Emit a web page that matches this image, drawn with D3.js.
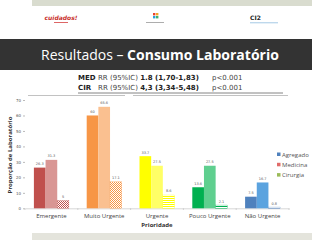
<!DOCTYPE html>
<html>
  <head>
    <meta charset="utf-8" />
    <title>Resultados - Consumo Laboratório</title>
    <script src="https://d3js.org/d3.v7.min.js"></script>
    <style>
      body { margin: 0; background: #fff; }
      svg { display: block; }
    </style>
  </head>
  <body>
    <script>
      const categories = ['Emergente', 'Muito Urgente', 'Urgente', 'Pouco Urgente', 'Não Urgente'];
      const agregado = [26.3, 60, 33.7, 13.6, 7.5];
      const medicina = [31.3, 65.6, 27.5, 27.5, 16.7];
      const cirurgia = [5, 17.1, 8.6, 2.1, 0.8];
      const series = ['Agregado', 'Medicina', 'Cirurgia'];
      const yTicks = [0, 10, 20, 30, 40, 50, 60, 70];
      // colour per category: [agregado, medicina, cirurgia]
      const catColors = [
        ['#c0504d', '#d99694', '#c0504d'],
        ['#f79646', '#fac090', '#f79646'],
        ['#ffff00', '#ffff66', '#ffff00'],
        ['#00b050', '#5fcf8f', '#00b050'],
        ['#4f81bd', '#5ba3df', '#4f81bd'],
      ];
      const legendColors = ['#4f81bd', '#e06b69', '#9bbb59'];

      const W = 320, H = 240;
      const svg = d3.select('body').append('svg').attr('width', W).attr('height', H);

      // slide decoration
      svg.append('rect').attr('x', 32).attr('y', 0).attr('width', 280).attr('height', 6).attr('fill', '#d9dccf');
      svg.append('rect').attr('x', 32).attr('y', 233).attr('width', 280).attr('height', 7).attr('fill', '#e4e4dc');

      // logos (rough)
      svg.append('text').attr('x', 61).attr('y', 20).attr('text-anchor', 'middle')
        .style('font', 'italic bold 6px "DejaVu Sans"').attr('fill', '#c9302c').text('cuidados!');
      svg.append('rect').attr('x', 54).attr('y', 22).attr('width', 14).attr('height', 1).attr('fill', '#d66');
      const ic = svg.append('g').attr('transform', 'translate(155,16)');
      [['#e8412c', -2, -3], ['#f5a623', 1, -3], ['#2b9fd8', -2, 0], ['#3cb371', 1, 0]].forEach(c => {
        ic.append('rect').attr('x', c[1]).attr('y', c[2]).attr('width', 2.4).attr('height', 2.4).attr('fill', c[0]);
      });
      svg.append('rect').attr('x', 146).attr('y', 22).attr('width', 18).attr('height', 0.8).attr('fill', '#999');
      svg.append('text').attr('x', 250).attr('y', 20)
        .style('font', 'bold 6px "DejaVu Sans"').attr('fill', '#222').text('CI2');
      svg.append('rect').attr('x', 250).attr('y', 22.5).attr('width', 28).attr('height', 0.7).attr('fill', '#7fb2d9');

      // title band
      svg.append('rect').attr('x', 0).attr('y', 39).attr('width', 312).attr('height', 31).attr('fill', '#333333');
      const title = svg.append('text').attr('x', 160).attr('y', 60).attr('text-anchor', 'middle')
        .style('font-family', '"Open Sans", sans-serif').style('font-size', '14px').attr('fill', '#fff');
      title.append('tspan').text('Resultados – ');
      title.append('tspan').style('font-weight', 'bold').text('Consumo Laboratório');

      // stats lines
      const stats = [
        ['MED', 'RR (95%IC) ', '1.8 (1,70-1,83)'],
        ['CIR', '  RR (95%IC) ', '4,3 (3,34-5,48)'],
      ];
      stats.forEach((s, i) => {
        const t = svg.append('text').attr('x', 78).attr('y', 80 + i * 9.5)
          .style('font-family', '"DejaVu Sans", sans-serif').style('font-size', '7px').attr('fill', '#222')
          .attr('xml:space', 'preserve');
        t.append('tspan').style('font-weight', 'bold').text(s[0] + ' ');
        t.append('tspan').attr('fill', '#444').text(s[1]);
        t.append('tspan').style('font-weight', 'bold').text(s[2]);
        svg.append('text').attr('x', 212).attr('y', 80 + i * 9.5)
          .style('font-family', '"DejaVu Sans", sans-serif').style('font-size', '7px').attr('fill', '#444')
          .text('p<0.001');
      });
      svg.append('line').attr('x1', 78).attr('x2', 283).attr('y1', 93).attr('y2', 93).attr('stroke', '#666').attr('stroke-width', 0.8);
      svg.append('line').attr('x1', 28).attr('x2', 125).attr('y1', 95.5).attr('y2', 95.5).attr('stroke', '#999').attr('stroke-width', 0.6);
      svg.append('line').attr('x1', 133).attr('x2', 288).attr('y1', 95.5).attr('y2', 95.5).attr('stroke', '#999').attr('stroke-width', 0.6);

      // patterns for hatched bars
      const defs = svg.append('defs');
      catColors.forEach((c, i) => {
        const p = defs.append('pattern').attr('id', 'pat' + i).attr('patternUnits', 'userSpaceOnUse')
          .attr('width', 2).attr('height', 2);
        p.append('rect').attr('width', 2).attr('height', 2).attr('fill', '#fff');
        if (i < 2) {
          p.append('rect').attr('width', 1).attr('height', 1).attr('fill', c[2]);
          p.append('rect').attr('x', 1).attr('y', 1).attr('width', 1).attr('height', 1).attr('fill', c[2]);
        } else {
          p.append('rect').attr('width', 2).attr('height', 1).attr('fill', c[2]);
        }
      });

      // chart
      const x0 = d3.scaleBand().domain(categories).range([25, 289]);
      const x1 = d3.scaleBand().domain(series).range([0, 35]);
      const y = d3.scaleLinear().domain([0, 70]).range([208.3, 100]);

      const yAxis = svg.append('g').attr('transform', 'translate(25,0)')
        .call(d3.axisLeft(y).tickValues(yTicks).tickSize(2).tickPadding(2));
      yAxis.select('.domain').remove();
      yAxis.selectAll('.tick line').attr('stroke', '#bbb');
      yAxis.selectAll('text').style('font-family', '"DejaVu Sans"').style('font-size', '4px').attr('fill', '#555');

      const xAxis = svg.append('g').attr('transform', 'translate(0,208.3)')
        .call(d3.axisBottom(x0).tickSize(0).tickPadding(5));
      xAxis.select('.domain').attr('stroke', '#bbb').attr('stroke-width', 0.6);
      xAxis.selectAll('text').style('font-family', '"Open Sans", sans-serif').style('font-size', '6px').attr('fill', '#444');
      // category boundary ticks
      svg.selectAll('.cb').data(categories.concat([null])).enter().append('line')
        .attr('x1', (d, i) => 25 + i * x0.bandwidth()).attr('x2', (d, i) => 25 + i * x0.bandwidth())
        .attr('y1', 208.3).attr('y2', 210).attr('stroke', '#bbb').attr('stroke-width', 0.6);

      const rows = [];
      categories.forEach((c, i) => {
        [agregado[i], medicina[i], cirurgia[i]].forEach((v, j) => {
          rows.push({ cat: c, ci: i, s: series[j], sj: j, v: v });
        });
      });

      svg.selectAll('.bar').data(rows).enter().append('rect')
        .attr('x', d => x0(d.cat) + (x0.bandwidth() - 35) / 2 + x1(d.s))
        .attr('y', d => y(d.v))
        .attr('width', x1.bandwidth())
        .attr('height', d => y(0) - y(d.v))
        .attr('fill', d => (d.sj === 2 ? 'url(#pat' + d.ci + ')' : catColors[d.ci][d.sj]))
        .attr('stroke', d => (d.sj === 2 ? catColors[d.ci][2] : 'none'))
        .attr('stroke-width', 0.3);

      svg.selectAll('.lbl').data(rows).enter().append('text')
        .attr('x', d => x0(d.cat) + (x0.bandwidth() - 35) / 2 + x1(d.s) + x1.bandwidth() / 2)
        .attr('y', d => y(d.v) - 2.5)
        .attr('text-anchor', 'middle')
        .style('font-family', '"DejaVu Sans"').style('font-size', '3.5px').attr('fill', '#555')
        .text(d => String(d.v));

      // axis titles
      svg.append('text').attr('transform', 'translate(12,155) rotate(-90)').attr('text-anchor', 'middle')
        .style('font-family', '"Open Sans", sans-serif').style('font-size', '6px').style('font-weight', 'bold')
        .attr('fill', '#333').text('Proporção de Laboratório');
      svg.append('text').attr('x', 157).attr('y', 227).attr('text-anchor', 'middle')
        .style('font-family', '"Open Sans", sans-serif').style('font-size', '6px').style('font-weight', 'bold')
        .attr('fill', '#333').text('Prioridade');

      // legend
      const lg = svg.selectAll('.lg').data(series).enter().append('g')
        .attr('transform', (d, i) => 'translate(277,' + (154.5 + i * 10.3) + ')');
      lg.append('rect').attr('x', 0).attr('y', -2).attr('width', 3.5).attr('height', 3.5).attr('fill', (d, i) => legendColors[i]);
      lg.append('text').attr('x', 5).attr('y', 2)
        .style('font-family', '"Open Sans", sans-serif').style('font-size', '6px').attr('fill', '#555')
        .text(d => d);
    </script>
  </body>
</html>
